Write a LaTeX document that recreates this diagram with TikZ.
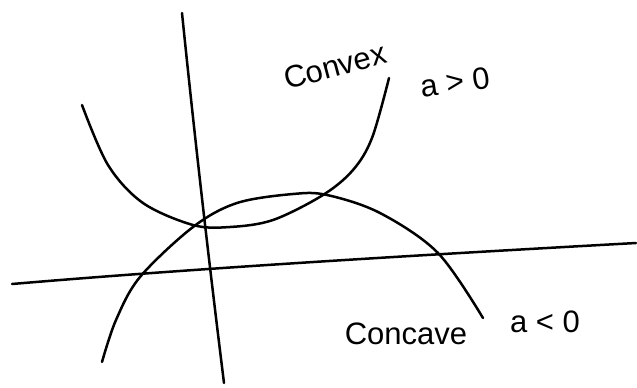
\documentclass[tikz,border=0pt]{standalone}
\usepackage{fontspec}
\setmainfont{Liberation Sans}
\begin{document}
\begin{tikzpicture}[x=1pt,y=-1pt,
  stroke/.style={line width=2.5pt,line cap=round,line join=round},
  lbl/.style={inner sep=0pt,font=\fontsize{31}{31}\selectfont}]
\useasboundingbox[fill=white] (0,0) rectangle (637,388);
% axes
\coordinate (yt) at (182,13);
\coordinate (yb) at (224,383);
\coordinate (xl) at (12,284);
\coordinate (xr) at (636,243);
\draw[stroke] (yt) .. controls (196,150) and (210,270) .. (yb);
\draw[stroke] (xl) .. controls (200,268) and (420,255) .. (xr);
% convex parabola
\draw[stroke] plot[smooth,tension=0.55] coordinates {(82,105) (108,165) (143,203) (193,225) (230,227) (273,220) (323,195) (353,170) (372,138) (389,78)};
% concave parabola
\draw[stroke] plot[smooth,tension=0.55] coordinates {(102,362) (116,320) (140,277) (193,227) (237,203) (293,194) (327,195) (380,213) (438,253) (483,318)};
% labels
\node[lbl,rotate=15] (convex) at (335,66) {Convex};
\node[lbl,rotate=8] (apos) at (455,82) {a > 0};
\node[lbl] (concave) at (406,334) {Concave};
\node[lbl] (aneg) at (545,322) {a < 0};
\end{tikzpicture}
\end{document}
